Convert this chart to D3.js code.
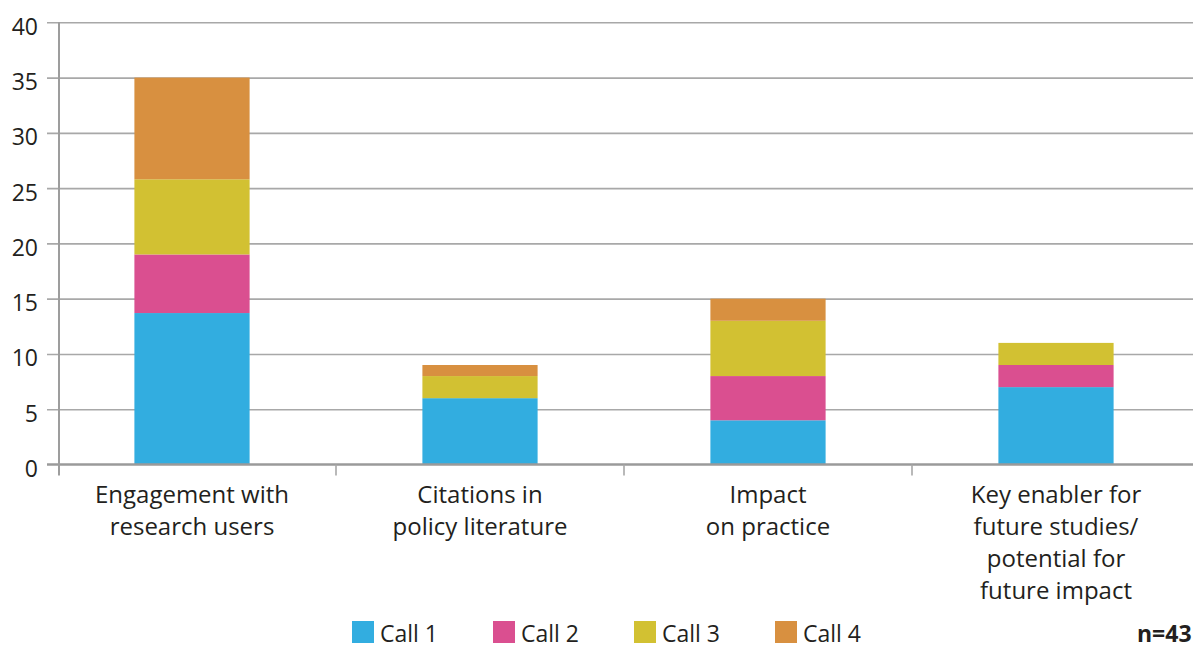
<!DOCTYPE html>
<html>
<head>
<meta charset="utf-8">
<script src="https://cdn.jsdelivr.net/npm/d3@7"></script>
<style>
  html, body { margin: 0; padding: 0; background: #fff; }
  svg { display: block; font-family: "Open Sans", "Noto Sans", sans-serif; }
</style>
</head>
<body>
<svg id="chart" width="1193" height="649"></svg>
<script>
// Categories (outcome types) and their wrapped label lines
const categories = ["engagement", "citations", "practice", "enabler"];
const categoryLines = [
  ["Engagement with", "research users"],
  ["Citations in", "policy literature"],
  ["Impact", "on practice"],
  ["Key enabler for", "future studies/", "potential for", "future impact"]
];

// Stacked series: number of case studies per call
const seriesNames = ["Call 1", "Call 2", "Call 3", "Call 4"];
const call1 = [13.7, 6, 4, 7];
const call2 = [5.3, 0, 4, 2];
const call3 = [6.8, 2, 5, 2];
const call4 = [9.2, 1, 2, 0];
const seriesColors = ["#32ade0", "#da4f90", "#d2c132", "#d89040"];

const yTicks = [0, 5, 10, 15, 20, 25, 30, 35, 40];
const sampleNote = "n=43";

const W = 1193, H = 649;
const svg = d3.select("#chart");
const textColor = "#231f20";

// Table built from the arrays above for d3.stack
const rows = categories.map((c, i) => ({
  cat: c,
  "Call 1": call1[i],
  "Call 2": call2[i],
  "Call 3": call3[i],
  "Call 4": call4[i]
}));
const stacked = d3.stack().keys(seriesNames)(rows);

// Scales
const y = d3.scaleLinear().domain([0, 40]).range([464.5, 22.3]);
const x = d3.scaleBand().domain(categories).range([48, 1200])
  .paddingInner(0.6).paddingOuter(0.3);
const color = d3.scaleOrdinal().domain(seriesNames).range(seriesColors);

const axisX = 59;      // left axis line
const gridLeft = 47;   // gridlines start a little left of the axis

// Gridlines and y tick labels
const yAxis = d3.axisLeft(y)
  .tickValues(yTicks)
  .tickSize(-(W - gridLeft))
  .tickPadding(9)
  .tickFormat(d3.format("d"));

const gy = svg.append("g")
  .attr("transform", `translate(${gridLeft},0)`)
  .call(yAxis);
gy.select(".domain").remove();
gy.selectAll(".tick line")
  .attr("stroke", "#a8a8a8")
  .attr("stroke-width", 1.6)
  .attr("opacity", d => d === 0 ? 0 : 1);
gy.selectAll(".tick text")
  .attr("fill", textColor)
  .attr("font-size", 23)
  .attr("font-family", "'Open Sans', sans-serif")
  .attr("dy", null)
  .attr("dominant-baseline", "alphabetic")
  .attr("y", 12);

// Stacked bars
svg.append("g")
  .selectAll("g")
  .data(stacked)
  .join("g")
  .attr("fill", d => color(d.key))
  .selectAll("rect")
  .data(d => d)
  .join("rect")
  .attr("x", d => x(d.data.cat))
  .attr("width", x.bandwidth())
  .attr("y", d => y(d[1]))
  .attr("height", d => y(d[0]) - y(d[1]));

// Baseline (zero line)
svg.append("line")
  .attr("x1", gridLeft).attr("x2", W)
  .attr("y1", y(0)).attr("y2", y(0))
  .attr("stroke", "#9a9a9a")
  .attr("stroke-width", 2.5);

// Vertical axis line
svg.append("line")
  .attr("x1", axisX).attr("x2", axisX)
  .attr("y1", y(40)).attr("y2", y(0) + 11)
  .attr("stroke", "#9d9d9d")
  .attr("stroke-width", 2);

// Category separator ticks below the baseline
const gap = x.step() - x.bandwidth();
svg.append("g")
  .selectAll("line")
  .data(categories.slice(1))
  .join("line")
  .attr("x1", d => x(d) - gap / 2)
  .attr("x2", d => x(d) - gap / 2)
  .attr("y1", y(0))
  .attr("y2", y(0) + 11)
  .attr("stroke", "#a8a8a8")
  .attr("stroke-width", 1.6);

// Category labels
const catLabels = svg.append("g")
  .selectAll("text")
  .data(categories)
  .join("text")
  .attr("x", d => x(d) + x.bandwidth() / 2)
  .attr("y", 503)
  .attr("text-anchor", "middle")
  .attr("fill", textColor)
  .attr("font-size", 24);
catLabels.selectAll("tspan")
  .data((d, i) => categoryLines[i])
  .join("tspan")
  .attr("x", function () { return this.parentNode.getAttribute("x"); })
  .attr("dy", (d, i) => i === 0 ? 0 : 32)
  .text(d => d);

// Legend
const legend = svg.append("g")
  .selectAll("g")
  .data(seriesNames)
  .join("g")
  .attr("transform", (d, i) => `translate(${352 + i * 141},621)`);
legend.append("rect")
  .attr("width", 22).attr("height", 22)
  .attr("fill", d => color(d));
legend.append("text")
  .attr("x", 28).attr("y", 21)
  .attr("fill", textColor)
  .attr("font-size", 23)
  .text(d => d);

// Sample size note
svg.append("text")
  .attr("x", 1137).attr("y", 642)
  .attr("fill", textColor)
  .attr("font-size", 23)
  .attr("font-weight", "bold")
  .text(sampleNote);
</script>
</body>
</html>
